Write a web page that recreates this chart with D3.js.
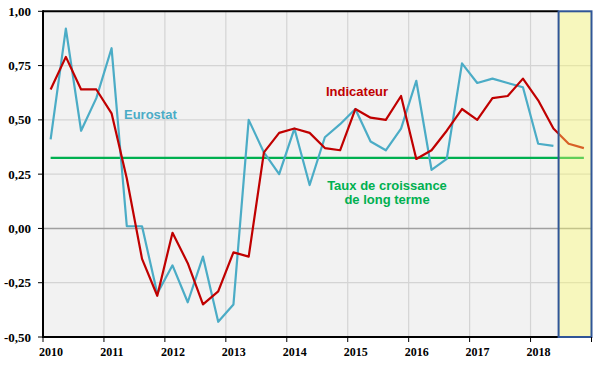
<!DOCTYPE html>
<html>
<head>
<meta charset="utf-8">
<script src="https://cdn.jsdelivr.net/npm/d3@7/dist/d3.min.js"></script>
<style>
  body { margin: 0; background: #fff; }
  svg { display: block; }
</style>
</head>
<body>
<svg id="chart" width="600" height="370"></svg>
<script>
// ---- Data ----
const years = [2010, 2011, 2012, 2013, 2014, 2015, 2016, 2017, 2018];
const quarters = [
  "2010T1","2010T2","2010T3","2010T4",
  "2011T1","2011T2","2011T3","2011T4",
  "2012T1","2012T2","2012T3","2012T4",
  "2013T1","2013T2","2013T3","2013T4",
  "2014T1","2014T2","2014T3","2014T4",
  "2015T1","2015T2","2015T3","2015T4",
  "2016T1","2016T2","2016T3","2016T4",
  "2017T1","2017T2","2017T3","2017T4",
  "2018T1","2018T2","2018T3","2018T4"
];
const eurostat = [
  0.41, 0.92, 0.45, 0.60,
  0.83, 0.01, 0.01, -0.30,
  -0.17, -0.34, -0.13, -0.43,
  -0.35, 0.50, 0.35, 0.25,
  0.46, 0.20, 0.42, 0.48,
  0.55, 0.40, 0.36, 0.46,
  0.68, 0.27, 0.32, 0.76,
  0.67, 0.69, 0.67, 0.65,
  0.39, 0.38, null, null
];
const indicateur = [
  0.64, 0.79, 0.64, 0.64,
  0.53, 0.23, -0.14, -0.31,
  -0.02, -0.16, -0.35, -0.29,
  -0.11, -0.13, 0.35, 0.44,
  0.46, 0.44, 0.37, 0.36,
  0.55, 0.51, 0.50, 0.61,
  0.32, 0.36, 0.45, 0.55,
  0.50, 0.60, 0.61, 0.69,
  0.59, 0.46, 0.39, 0.37
];
const longTermRate = 0.325;
const yTicks = [-0.5, -0.25, 0, 0.25, 0.5, 0.75, 1.0];
const forecastStart = 2018.46;
const xDomain = [2010, 2019];

// ---- Layout ----
const svg = d3.select("#chart");
const pL = 43, pR = 591.5, pT = 11.3, pB = 337;

const qx = q => { const yr = +q.slice(0,4), n = +q.slice(5); return yr + (n - 0.5) / 4; };
const x = d3.scaleLinear().domain(xDomain).range([pL, pR]);
const y = d3.scaleLinear().domain([-0.5, 1]).range([pB, pT]);
const fmt = v => d3.format(".2f")(v).replace(".", ",").replace("\u2212", "-");

// plot background
svg.append("rect").attr("x", pL).attr("y", pT)
  .attr("width", pR - pL).attr("height", pB - pT)
  .attr("fill", "#f2f2f2");

// gridlines
svg.append("g").selectAll("line").data(years.slice(1))
  .join("line")
  .attr("x1", d => x(d)).attr("x2", d => x(d))
  .attr("y1", pT).attr("y2", pB)
  .attr("stroke", "#d4d4d4").attr("stroke-width", 1.2);
svg.append("g").selectAll("line").data(yTicks.filter(v => v > -0.5 && v < 1))
  .join("line")
  .attr("x1", pL).attr("x2", pR)
  .attr("y1", d => y(d)).attr("y2", d => y(d))
  .attr("stroke", d => d === 0 ? "#a0a0a0" : "#d4d4d4")
  .attr("stroke-width", d => d === 0 ? 1.5 : 1.2);

// long term rate
const q0 = qx(quarters[0]), qN = qx(quarters[quarters.length - 1]);
svg.append("line")
  .attr("x1", x(q0)).attr("x2", x(qN))
  .attr("y1", y(longTermRate)).attr("y2", y(longTermRate))
  .attr("stroke", "#00b050").attr("stroke-width", 2.2);

// series
const line = d3.line()
  .defined(d => d.v !== null)
  .x(d => x(qx(d.q))).y(d => y(d.v));
const toPts = arr => quarters.map((q, i) => ({ q, v: arr[i] }));

svg.append("path").datum(toPts(eurostat))
  .attr("d", line).attr("fill", "none")
  .attr("stroke", "#4bacc6").attr("stroke-width", 2.2)
  .attr("stroke-linejoin", "round");
svg.append("path").datum(toPts(indicateur))
  .attr("d", line).attr("fill", "none")
  .attr("stroke", "#c00000").attr("stroke-width", 2.2)
  .attr("stroke-linejoin", "round");

// forecast zone overlay
svg.append("rect")
  .attr("x", x(forecastStart)).attr("y", pT)
  .attr("width", x(xDomain[1]) - x(forecastStart)).attr("height", pB - pT)
  .attr("fill", "#ffff66").attr("fill-opacity", 0.38);

// axes lines
svg.append("line").attr("x1", pL).attr("x2", x(forecastStart))
  .attr("y1", pT).attr("y2", pT).attr("stroke", "#000").attr("stroke-width", 2);
svg.append("line").attr("x1", pL).attr("x2", x(forecastStart))
  .attr("y1", pB).attr("y2", pB).attr("stroke", "#000").attr("stroke-width", 2);
svg.append("line").attr("x1", pL).attr("x2", pL)
  .attr("y1", pT - 1).attr("y2", pB + 1).attr("stroke", "#000").attr("stroke-width", 2);

// forecast border
svg.append("rect")
  .attr("x", x(forecastStart)).attr("y", pT)
  .attr("width", x(xDomain[1]) - x(forecastStart)).attr("height", pB - pT)
  .attr("fill", "none").attr("stroke", "#2f5597").attr("stroke-width", 2);

// y ticks and labels
svg.append("g").selectAll("line").data(yTicks).join("line")
  .attr("x1", pL - 5).attr("x2", pL)
  .attr("y1", d => y(d)).attr("y2", d => y(d))
  .attr("stroke", "#000").attr("stroke-width", 1);
svg.append("g").selectAll("text").data(yTicks).join("text")
  .attr("x", 31).attr("y", d => y(d)).attr("dy", "0.35em")
  .attr("text-anchor", "end")
  .attr("font-family", "Liberation Serif, serif").attr("font-weight", "bold")
  .attr("font-size", 13).attr("fill", "#000")
  .text(d => fmt(d));

// x ticks and labels
svg.append("g").selectAll("line").data(years.concat([xDomain[1]])).join("line")
  .attr("x1", d => x(d)).attr("x2", d => x(d))
  .attr("y1", pB).attr("y2", pB + 5)
  .attr("stroke", "#000").attr("stroke-width", 1);
svg.append("g").selectAll("text").data(years).join("text")
  .attr("x", d => x(d) + 8).attr("y", 352).attr("dy", "0.35em")
  .attr("text-anchor", "middle")
  .attr("font-family", "Liberation Serif, serif").attr("font-weight", "bold")
  .attr("font-size", 12).attr("fill", "#000")
  .text(d => d);

// annotations
const ann = svg.append("g")
  .attr("font-family", "Liberation Sans, Arial, sans-serif")
  .attr("font-weight", "bold").attr("font-size", 13);
ann.append("text").attr("x", 124).attr("y", 114).attr("dy", "0.35em")
  .attr("fill", "#4bacc6").text("Eurostat");
ann.append("text").attr("x", 326).attr("y", 91).attr("dy", "0.35em")
  .attr("fill", "#c00000").text("Indicateur");
ann.append("text").attr("x", 387).attr("y", 185).attr("dy", "0.35em")
  .attr("text-anchor", "middle").attr("fill", "#00b050").text("Taux de croissance");
ann.append("text").attr("x", 387).attr("y", 199).attr("dy", "0.35em")
  .attr("text-anchor", "middle").attr("fill", "#00b050").text("de long terme");
</script>
</body>
</html>
